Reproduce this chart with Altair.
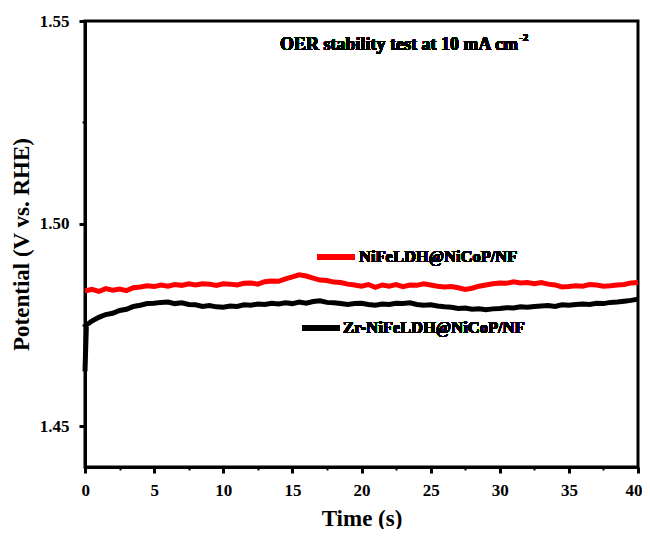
import altair as alt
import pandas as pd

# ---------------- data ----------------
RED_T = [i * 0.5 for i in range(81)]
RED_V = [1.4834, 1.4838, 1.4833, 1.4840, 1.4836, 1.4839, 1.4835, 1.4842, 1.4844, 1.4847,
         1.4845, 1.4849, 1.4846, 1.4850, 1.4848, 1.4852, 1.4849, 1.4852, 1.4851, 1.4848,
         1.4852, 1.4851, 1.4849, 1.4853, 1.4854, 1.4851, 1.4857, 1.4859, 1.4858, 1.4864,
         1.4869, 1.4874, 1.4871, 1.4866, 1.4861, 1.4860, 1.4856, 1.4855, 1.4851, 1.4849,
         1.4846, 1.4850, 1.4843, 1.4849, 1.4846, 1.4850, 1.4845, 1.4849, 1.4848, 1.4852,
         1.4849, 1.4846, 1.4844, 1.4845, 1.4842, 1.4838, 1.4841, 1.4846, 1.4849, 1.4852,
         1.4854, 1.4853, 1.4857, 1.4854, 1.4855, 1.4852, 1.4855, 1.4851, 1.4849, 1.4844,
         1.4845, 1.4847, 1.4846, 1.4850, 1.4849, 1.4846, 1.4847, 1.4849, 1.4850, 1.4854,
         1.4855]

BLACK_T = [0.0, 0.1] + [i * 0.5 for i in range(1, 81)]
BLACK_V = [1.4636, 1.4750,
           1.4760, 1.4769, 1.4776, 1.4779, 1.4786, 1.4789, 1.4796, 1.4799, 1.4803, 1.4804,
           1.4806, 1.4807, 1.4803, 1.4805, 1.4801, 1.4800, 1.4796, 1.4798, 1.4795, 1.4794,
           1.4797, 1.4796, 1.4800, 1.4799, 1.4802, 1.4801, 1.4804, 1.4802, 1.4805, 1.4803,
           1.4807, 1.4804, 1.4808, 1.4810, 1.4806, 1.4805, 1.4803, 1.4801, 1.4803, 1.4804,
           1.4801, 1.4799, 1.4802, 1.4801, 1.4804, 1.4803, 1.4805, 1.4801, 1.4799, 1.4800,
           1.4797, 1.4795, 1.4794, 1.4791, 1.4792, 1.4789, 1.4790, 1.4788, 1.4790, 1.4791,
           1.4793, 1.4792, 1.4795, 1.4794, 1.4796, 1.4797, 1.4798, 1.4796, 1.4800, 1.4799,
           1.4801, 1.4802, 1.4801, 1.4804, 1.4803, 1.4806, 1.4807, 1.4809, 1.4811, 1.4814]

X_MAJOR = [0, 5, 10, 15, 20, 25, 30, 35, 40]
X_MINOR = [2.5, 7.5, 12.5, 17.5, 22.5, 27.5, 32.5, 37.5]
Y_MAJOR = [1.45, 1.50, 1.55]
Y_MINOR = [1.475, 1.525]

RED_LABEL = "NiFeLDH@NiCoP/NF"
BLACK_LABEL = "Zr-NiFeLDH@NiCoP/NF"
ANNOT = "OER stability test at 10 mA cm"
ANNOT_SUP = "-2"

FONT = "Liberation Serif"

red_df = pd.DataFrame({"t": RED_T, "v": RED_V})
black_df = pd.DataFrame({"t": BLACK_T, "v": BLACK_V})

xscale = alt.Scale(domain=[0, 40], nice=False, zero=False)
yscale = alt.Scale(domain=[1.44, 1.55], nice=False, zero=False)

x_major = alt.Axis(values=X_MAJOR, orient="bottom", title="Time (s)", labelFlush=True,
                   labelFlushOffset=4, titlePadding=9, labelPadding=9, titleFontSize=23)
y_major = alt.Axis(values=Y_MAJOR, orient="left", format=".2f",
                   title="Potential (V vs. RHE)", titlePadding=6, labelPadding=10,
                   titleFontSize=23)
x_minor = alt.Axis(values=X_MINOR, orient="bottom", labels=False, domain=False,
                   title=None, tickSize=3, tickWidth=2)
y_minor = alt.Axis(values=Y_MINOR, orient="left", labels=False, domain=False,
                   title=None, tickSize=3, tickWidth=2)

red_line = alt.Chart(red_df).mark_line(color="#ff0000", strokeWidth=5).encode(
    x=alt.X("t:Q", scale=xscale, axis=x_major),
    y=alt.Y("v:Q", scale=yscale, axis=y_major),
)

black_line = alt.Chart(black_df).mark_line(color="black", strokeWidth=5).encode(
    x=alt.X("t:Q", scale=xscale, axis=None),
    y=alt.Y("v:Q", scale=yscale, axis=None),
)

minor_layer = alt.Chart(red_df).mark_point(opacity=0).encode(
    x=alt.X("t:Q", scale=xscale, axis=x_minor),
    y=alt.Y("v:Q", scale=yscale, axis=y_minor),
)

# legend entries (inline)
leg_red_line = alt.Chart(red_df).mark_rule(color="#ff0000", strokeWidth=4.5).encode(
    x=alt.value(232), x2=alt.value(270), y=alt.value(236))
leg_red_text = alt.Chart(red_df).mark_text(
    text=RED_LABEL, align="left", baseline="middle", font=FONT, fontWeight="bold",
    fontSize=16.5, color="black").encode(x=alt.value(274), y=alt.value(236))
leg_black_line = alt.Chart(red_df).mark_rule(color="black", strokeWidth=4.5).encode(
    x=alt.value(217), x2=alt.value(255), y=alt.value(307))
leg_black_text = alt.Chart(red_df).mark_text(
    text=BLACK_LABEL, align="left", baseline="middle", font=FONT, fontWeight="bold",
    fontSize=16.5, color="black").encode(x=alt.value(258), y=alt.value(307))

annot = alt.Chart(red_df).mark_text(
    text=ANNOT, align="right", baseline="middle", font=FONT, fontWeight="bold",
    fontSize=18, color="black").encode(x=alt.value(433), y=alt.value(24))
annot_sup = alt.Chart(red_df).mark_text(
    text=ANNOT_SUP, align="left", baseline="middle", font=FONT, fontWeight="bold",
    fontSize=11, color="black").encode(x=alt.value(434), y=alt.value(17))

chart = alt.layer(
    minor_layer, red_line, black_line,
    leg_red_line, leg_red_text, leg_black_line, leg_black_text,
    annot, annot_sup,
).resolve_axis(x="independent", y="independent").properties(
    width=553, height=446,
    autosize=alt.AutoSizeParams(type="none"),
    padding={"left": 77, "top": 13, "right": 4, "bottom": 62},
    background="white",
).configure_view(
    stroke="black", strokeWidth=3
).configure_axis(
    grid=False,
    domainColor="black", domainWidth=3,
    tickColor="black", tickWidth=3, tickSize=6,
    labelFont=FONT, labelFontWeight="bold", labelFontSize=17, labelColor="black",
    titleFont=FONT, titleFontWeight="bold", titleColor="black",
)

chart.save("out.html", embed_options={"renderer": "svg", "actions": False})
